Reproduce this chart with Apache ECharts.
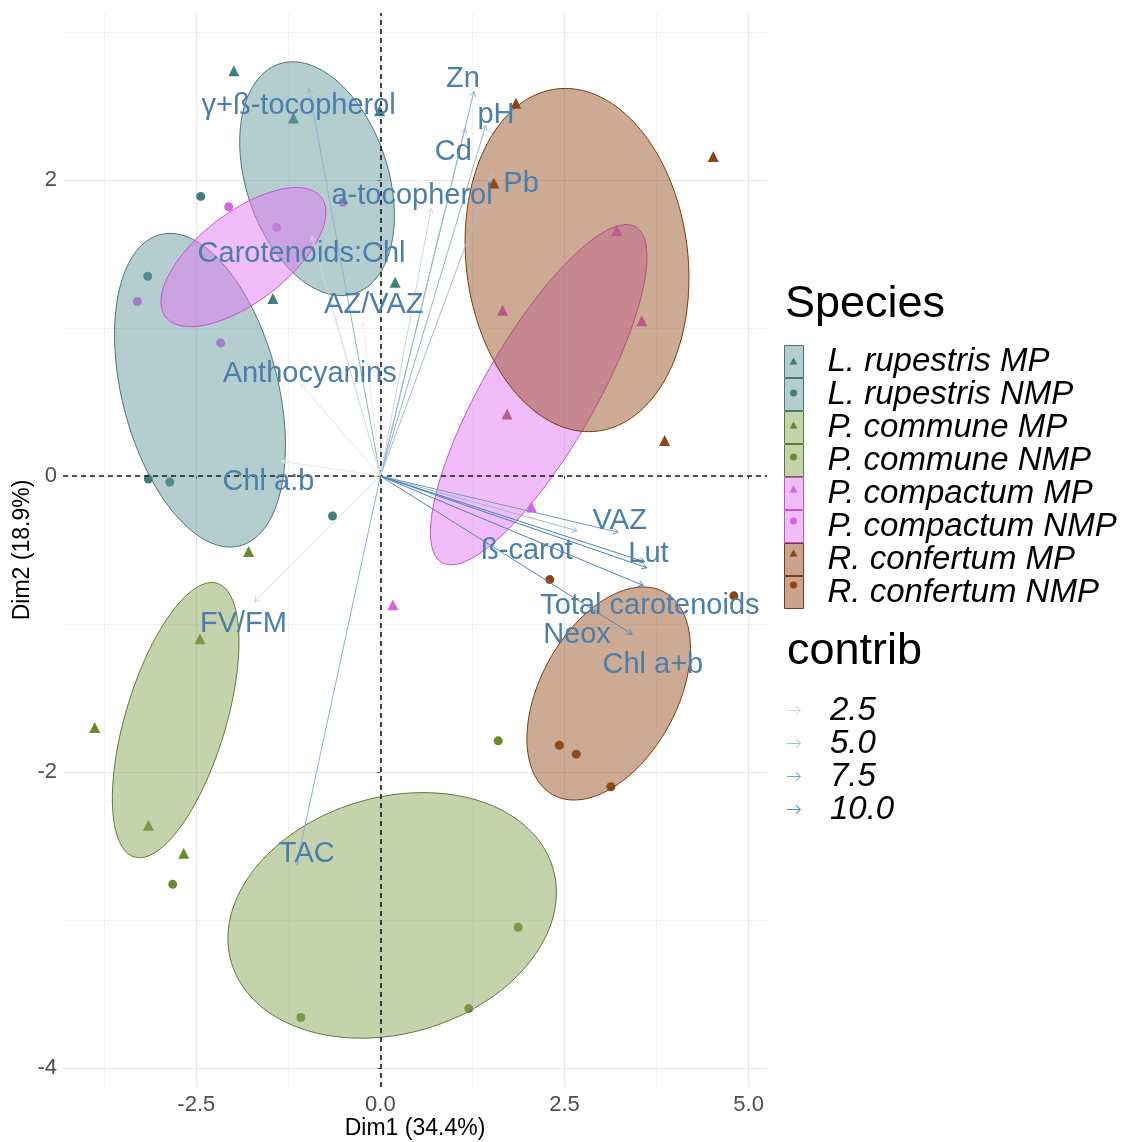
<!DOCTYPE html>
<html>
<head>
<meta charset="utf-8">
<title>PCA biplot</title>
<script src="https://cdn.jsdelivr.net/npm/echarts@6/dist/echarts.min.js"></script>
<style>
  html, body { margin: 0; padding: 0; background: #ffffff; }
  #chart { width: 1144px; height: 1142px; }
</style>
</head>
<body>
<div id="chart"></div>
<script>
// PCA biplot: individuals grouped by species and site type, variables as arrows coloured by contribution

const FONT = '"Liberation Sans", Arial, Helvetica, sans-serif';

const groupNames = [
  'L. rupestris MP', 'L. rupestris NMP',
  'P. commune MP', 'P. commune NMP',
  'P. compactum MP', 'P. compactum NMP',
  'R. confertum MP', 'R. confertum NMP'
];

// individual scores [Dim1, Dim2]
const lRupestrisMP = [[-1.99, 2.74], [-1.18, 2.42], [-1.46, 1.20], [0.20, 1.31], [-0.01, 2.47]];
const lRupestrisNMP = [[-2.44, 1.89], [-3.16, 1.35], [-3.15, -0.02], [-2.86, -0.04], [-0.65, -0.27]];
const pCommuneMP = [[-1.79, -0.51], [-2.45, -1.10], [-3.88, -1.70], [-3.15, -2.36], [-2.67, -2.55]];
const pCommuneNMP = [[-2.82, -2.76], [1.60, -1.79], [1.87, -3.05], [1.20, -3.60], [-1.08, -3.66]];
const pCompactumMP = [[3.21, 1.66], [1.66, 1.12], [3.55, 1.05], [2.05, -0.21], [0.17, -0.87]];
const pCompactumNMP = [[-2.06, 1.82], [-1.41, 1.68], [-0.51, 1.85], [-3.30, 1.18], [-2.17, 0.90]];
const rConfertumMP = [[1.84, 2.52], [1.54, 1.98], [4.52, 2.16], [3.86, 0.24], [1.72, 0.42]];
const rConfertumNMP = [[2.30, -0.70], [4.80, -0.81], [2.43, -1.82], [2.66, -1.88], [3.13, -2.10]];

// concentration ellipses: [centre Dim1, centre Dim2, top point Dim1, top point Dim2, half width along Dim1]
const ellipseLRupestrisMP = [-0.86, 2.01, -1.19, 2.80, 1.05];
const ellipseLRupestrisNMP = [-2.45, 0.58, -2.86, 1.64, 1.16];
const ellipsePCommuneMP = [-2.78, -1.65, -2.29, -0.72, 0.86];
const ellipsePCommuneNMP = [0.16, -2.97, 0.58, -2.14, 2.23];
const ellipsePCompactumMP = [2.15, 0.55, 3.34, 1.70, 1.47];
const ellipsePCompactumNMP = [-1.86, 1.48, -1.14, 1.95, 1.12];
const ellipseRConfertumMP = [2.67, 1.46, 2.51, 2.62, 1.52];
const ellipseRConfertumNMP = [3.10, -1.47, 3.57, -0.75, 1.11];

// variables: arrow tips, contribution and label anchors
const varNames = [
  'γ+ß-tocopherol', 'Zn', 'Cd', 'pH', 'Pb', 'a-tocopherol', 'Carotenoids:Chl', 'AZ/VAZ',
  'Anthocyanins', 'Chl a:b', 'FV/FM', 'TAC', 'ß-carot', 'VAZ', 'Lut', 'Total carotenoids',
  'Chl a+b', 'Neox'
];
const varDim1 = [-0.97, 1.27, 1.15, 1.43, 1.52, 0.69, -0.93, -0.24, -1.08, -1.34, -1.71, -1.14, 2.67, 3.23, 3.59, 3.62, 3.57, 3.42];
const varDim2 = [2.62, 2.60, 2.35, 2.37, 2.05, 1.81, 1.62, 1.04, 0.62, 0.10, -0.85, -2.63, -0.37, -0.38, -0.58, -0.62, -0.74, -1.07];
const varContrib = [6.0, 6.4, 5.2, 5.8, 5.0, 2.9, 2.7, 0.9, 1.2, 1.4, 2.8, 6.2, 5.5, 8.0, 10.1, 10.3, 10.1, 9.8];
const varLabelDim1 = [-1.11, 1.12, 0.99, 1.57, 1.91, 0.43, -1.07, -0.09, -0.96, -1.52, -1.86, -1.00, 1.99, 3.25, 3.64, 3.66, 3.70, 2.67];
const varLabelDim2 = [2.53, 2.71, 2.22, 2.47, 2.00, 1.92, 1.53, 1.18, 0.72, -0.01, -0.97, -2.53, -0.48, -0.28, -0.50, -0.85, -1.25, -1.05];

// axis breaks
const xTicks = [-2.5, 0, 2.5, 5];
const yTicks = [-4, -2, 0, 2];
const xMinorGrid = [-3.75, -1.25, 1.25, 3.75];
const yMinorGrid = [-3, -1, 1, 3];
const contribBreaks = [2.5, 5.0, 7.5, 10.0];

// ---- styling ----
const groupPoints = [lRupestrisMP, lRupestrisNMP, pCommuneMP, pCommuneNMP, pCompactumMP, pCompactumNMP, rConfertumMP, rConfertumNMP];
const groupEllipses = [ellipseLRupestrisMP, ellipseLRupestrisNMP, ellipsePCommuneMP, ellipsePCommuneNMP,
  ellipsePCompactumMP, ellipsePCompactumNMP, ellipseRConfertumMP, ellipseRConfertumNMP];
const speciesPoint = ['#3f7e7f', '#688b2e', '#d862ea', '#8b4513'];
const speciesFill = ['rgba(105,155,160,0.5)', 'rgba(140,167,92,0.5)', 'rgba(228,122,245,0.5)', 'rgba(150,78,30,0.48)'];
const speciesKeyFill = ['#b4cdcf', '#c5d3ad', '#f1bcfa', '#c9a38d'];
const speciesBorder = ['#4b7478', '#5d7a35', '#c452d0', '#7b3a10'];
const groupSymbol = i => (i % 2 === 0 ? 'triangle' : 'circle');
const speciesOf = i => Math.floor(i / 2);

const LABEL_COLOR = '#4a7eab';
const LABEL_BASELINE_SHIFT = 4; // px, centres the cap height on the anchor
const CONTRIB_LOW = [236, 236, 236];
const CONTRIB_HIGH = [70, 130, 180];
const CONTRIB_MIN = 0.9;
const CONTRIB_MAX = 10.3;
function contribColor(v) {
  const t = (v - CONTRIB_MIN) / (CONTRIB_MAX - CONTRIB_MIN);
  const c = CONTRIB_LOW.map((lo, k) => Math.round(lo + (CONTRIB_HIGH[k] - lo) * t));
  return 'rgb(' + c.join(',') + ')';
}
const arrowIcon = 'path://M0,4.6 L11.5,4.6 L8.2,1.4 L8.9,0.7 L13.2,5 L8.9,9.3 L8.2,8.6 L11.5,5.4 L0,5.4 Z';

const series = [];

// background grid
const majorGrid = { color: '#e6e6e6', width: 1.2, type: 'solid' };
const minorGrid = { color: '#efefef', width: 0.8, type: 'solid' };
series.push({
  type: 'scatter', name: 'panel grid', data: [], silent: true, z: 0,
  markLine: {
    silent: true, symbol: ['none', 'none'], label: { show: false }, z: 0, animation: false,
    emphasis: { disabled: true },
    data: [
      ...xMinorGrid.map(v => ({ xAxis: v, lineStyle: minorGrid })),
      ...yMinorGrid.map(v => ({ yAxis: v, lineStyle: minorGrid })),
      ...xTicks.map(v => ({ xAxis: v, lineStyle: majorGrid })),
      ...yTicks.map(v => ({ yAxis: v, lineStyle: majorGrid }))
    ]
  }
});

// individuals
groupNames.forEach((name, i) => {
  const sym = groupSymbol(i);
  series.push({
    type: 'scatter', name: name, data: groupPoints[i], silent: true, z: 1,
    symbol: sym, symbolSize: sym === 'triangle' ? 11 : 9,
    itemStyle: { color: speciesPoint[speciesOf(i)], opacity: 1 }
  });
});

// ellipses
groupNames.forEach((name, i) => {
  const s = speciesOf(i);
  series.push({
    type: 'custom', name: name, silent: true, z: 2,
    data: [groupEllipses[i]],
    encode: { x: 0, y: 1 },
    renderItem: function (params, api) {
      const cx = api.value(0), cy = api.value(1);
      const ax = api.value(2) - cx, ay = api.value(3) - cy;
      const hw = api.value(4);
      const bx = Math.sqrt(Math.max(hw * hw - ax * ax, 0));
      const pts = [];
      const n = 160;
      for (let k = 0; k < n; k++) {
        const t = 2 * Math.PI * k / n;
        pts.push(api.coord([cx + Math.cos(t) * ax + Math.sin(t) * bx, cy + Math.cos(t) * ay]));
      }
      return {
        type: 'polygon', shape: { points: pts },
        style: { fill: speciesFill[s], stroke: speciesBorder[s], lineWidth: 1 }
      };
    }
  });
});

// origin reference lines
series.push({
  type: 'scatter', name: 'origin lines', data: [], silent: true, z: 3,
  markLine: {
    silent: true, symbol: ['none', 'none'], label: { show: false }, z: 3, animation: false,
    emphasis: { disabled: true },
    lineStyle: { color: '#1a1a1a', width: 1.6, type: [5, 4] },
    data: [{ xAxis: 0 }, { yAxis: 0 }]
  }
});

// variable arrows
const arrowSeriesIndex = series.length;
series.push({
  type: 'custom', name: 'contrib', silent: true, z: 4,
  data: varNames.map((n, i) => [varDim1[i], varDim2[i], varContrib[i]]),
  encode: { x: 0, y: 1 },
  renderItem: function (params, api) {
    const o = api.coord([0, 0]);
    const p = api.coord([api.value(0), api.value(1)]);
    const color = api.visual('color');
    const ang = Math.atan2(p[1] - o[1], p[0] - o[0]);
    const len = 6, spread = Math.PI / 6;
    const h1 = [p[0] - len * Math.cos(ang - spread), p[1] - len * Math.sin(ang - spread)];
    const h2 = [p[0] - len * Math.cos(ang + spread), p[1] - len * Math.sin(ang + spread)];
    return {
      type: 'group',
      children: [
        { type: 'line', shape: { x1: o[0], y1: o[1], x2: p[0], y2: p[1] }, style: { stroke: color, lineWidth: 1 } },
        { type: 'polyline', shape: { points: [h1, p, h2] }, style: { stroke: color, lineWidth: 1, fill: null } }
      ]
    };
  }
});

// variable labels
series.push({
  type: 'custom', name: 'variable labels', silent: true, z: 5,
  data: varNames.map((n, i) => [varLabelDim1[i], varLabelDim2[i]]),
  encode: { x: 0, y: 1 },
  renderItem: function (params, api) {
    const c = api.coord([api.value(0), api.value(1)]);
    return {
      type: 'text', x: c[0], y: c[1] + LABEL_BASELINE_SHIFT,
      style: {
        text: varNames[params.dataIndex], fill: LABEL_COLOR,
        fontSize: 29, fontFamily: FONT, align: 'center', verticalAlign: 'middle'
      }
    };
  }
});

const option = {
  animation: false,
  backgroundColor: '#ffffff',
  textStyle: { fontFamily: FONT },
  grid: { left: 63, right: 377, top: 13, bottom: 55, containLabel: false, outerBoundsMode: 'none' },
  title: [
    { text: 'Species', left: 785, top: 282, padding: 0,
      textStyle: { fontSize: 45, fontWeight: 'normal', color: '#000', fontFamily: FONT } },
    { text: 'contrib', left: 787, top: 629, padding: 0,
      textStyle: { fontSize: 45, fontWeight: 'normal', color: '#000', fontFamily: FONT } }
  ],
  xAxis: {
    type: 'value', min: -4.31, max: 5.25,
    axisLine: { show: false }, splitLine: { show: false },
    axisTick: { show: true, length: 3, customValues: xTicks, lineStyle: { color: '#4d4d4d', width: 1 } },
    axisLabel: { customValues: xTicks, formatter: v => v.toFixed(1), fontSize: 22, color: '#4d4d4d', fontFamily: FONT, margin: 7 },
    name: 'Dim1 (34.4%)', nameLocation: 'middle', nameGap: 30, nameMoveOverlap: false,
    nameTextStyle: { fontSize: 23, color: '#000', fontFamily: FONT }
  },
  yAxis: {
    type: 'value', min: -4.13, max: 3.13,
    axisLine: { show: false }, splitLine: { show: false },
    axisTick: { show: true, length: 3, customValues: yTicks, lineStyle: { color: '#4d4d4d', width: 1 } },
    axisLabel: { customValues: yTicks, formatter: v => String(v), fontSize: 22, color: '#4d4d4d', fontFamily: FONT, margin: 6 },
    name: 'Dim2 (18.9%)', nameLocation: 'middle', nameGap: 29, nameRotate: 90, nameMoveOverlap: false,
    nameTextStyle: { fontSize: 23, color: '#000', fontFamily: FONT }
  },
  legend: [
    {
      orient: 'vertical', left: 784, top: 345, padding: 0,
      itemWidth: 19, itemHeight: 32, itemGap: 0, selectedMode: false,
      data: groupNames.map((n, i) => ({
        name: n, icon: 'rect',
        itemStyle: { color: speciesKeyFill[speciesOf(i)], borderColor: speciesBorder[speciesOf(i)], borderWidth: 1 }
      })),
      textStyle: { fontSize: 33, fontStyle: 'italic', fontFamily: FONT, color: '#000', lineHeight: 32, padding: [0, 0, 0, 19] }
    },
    {
      orient: 'vertical', left: 789.5, top: 357.5, padding: 0,
      itemWidth: 8, itemHeight: 7, itemGap: 25, selectedMode: false,
      data: groupNames.map((n, i) => ({
        name: n, icon: groupSymbol(i),
        itemStyle: { color: speciesPoint[speciesOf(i)], borderWidth: 0 }
      })),
      formatter: () => '',
      textStyle: { fontSize: 1, lineHeight: 1 }
    }
  ],
  visualMap: [
    {
      type: 'continuous', show: false, seriesIndex: arrowSeriesIndex, dimension: 2,
      min: CONTRIB_MIN, max: CONTRIB_MAX,
      inRange: { color: [contribColor(CONTRIB_MIN), contribColor(CONTRIB_MAX)] }
    },
    {
      type: 'piecewise', seriesIndex: [], orient: 'vertical', inverse: true, align: 'left',
      left: 787, top: 694, padding: 0,
      itemWidth: 14, itemHeight: 9, itemGap: 0, textGap: 29, selectedMode: false,
      itemSymbol: arrowIcon,
      pieces: contribBreaks.map(v => ({ value: v, label: v.toFixed(1), color: contribColor(v) })),
      textStyle: { fontSize: 33, fontStyle: 'italic', fontFamily: FONT, color: '#000', lineHeight: 32 }
    }
  ],
  series: series
};

const chart = echarts.init(document.getElementById('chart'));
chart.setOption(option);
</script>
</body>
</html>
